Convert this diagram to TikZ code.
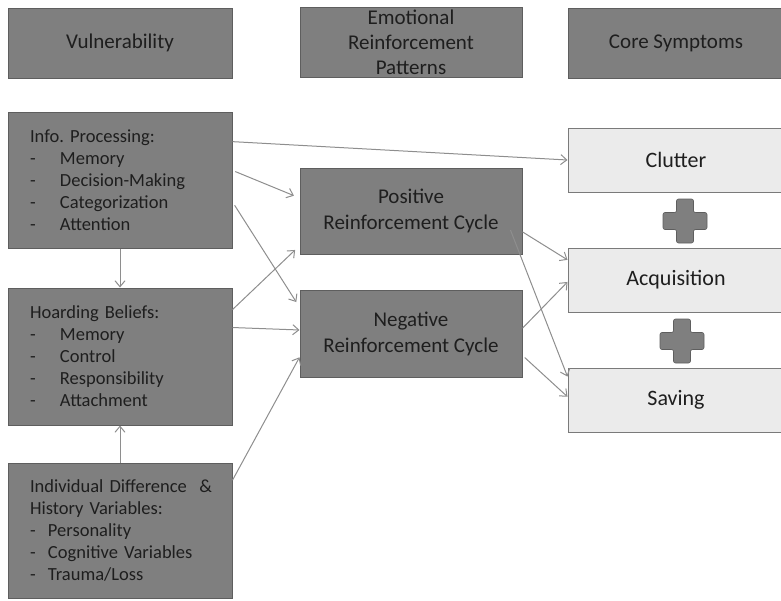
\documentclass[tikz,border=0pt]{standalone}
\usepackage{fontspec}
\setmainfont{Carlito}
\usepackage{tikz}
\usetikzlibrary{calc}
\usetikzlibrary{arrows.meta}
\definecolor{boxdark}{HTML}{7F7F7F}
\definecolor{boxedge}{HTML}{5E5E5E}
\definecolor{boxlight}{HTML}{EBEBEB}
\definecolor{lightedge}{HTML}{7A7A7A}
\definecolor{linkgray}{HTML}{8E8E8E}
\definecolor{txt}{HTML}{1E1E1E}
\newcommand{\longdash}{\makebox[30pt][l]{-}}
\newcommand{\shortdash}{\makebox[18pt][l]{-}}
\frenchspacing
\tikzset{
    darkbox/.style={draw=boxedge, fill=boxdark, line width=1pt, text=txt, inner sep=0pt},
    headbox/.style={darkbox, minimum height=70pt, align=center, font=\fontsize{21}{25}\selectfont},
    listbox/.style={darkbox, text width=180pt, inner xsep=22pt, align=left, font=\fontsize{18.5}{22}\selectfont},
    cyclebox/.style={darkbox, minimum width=222pt, minimum height=86pt, font=\fontsize{21}{26}\selectfont},
    symbox/.style={draw=lightedge, fill=boxlight, line width=1pt, text=txt, minimum width=216pt, minimum height=64pt, font=\fontsize{22}{26}\selectfont},
    link/.style={draw=linkgray, line width=1pt, -{Straight Barb[length=6pt, width=10pt]}},
    plusshape/.style={draw=boxedge, fill=boxdark, line width=0.6pt, rounded corners=2pt}
}
\begin{document}
\begin{tikzpicture}[x=1pt, y=-1pt]
        \useasboundingbox (0,0) rectangle (781,600);
        % headers
        \node[headbox, minimum width=224pt] (vul) at (120,43) {Vulnerability};
        \node[headbox, minimum width=222pt] (emo) at (411,42) {Emotional\\Reinforcement\\Patterns};
        \node[headbox, minimum width=216pt] (core) at (676,43) {Core Symptoms};

        % vulnerability boxes
        \node[listbox, minimum height=136pt] (info) at (120,180) {Info. Processing:\\\longdash Memory\\\longdash Decision-Making\\\longdash Categorization\\\longdash Attention};
        \node[listbox, minimum height=137pt] (belief) at (120,356.5) {Hoarding Beliefs:\\\longdash Memory\\\longdash Control\\\longdash Responsibility\\\longdash Attachment};
        \node[listbox, minimum height=135pt] (indiv) at (120,530.5) {\mbox{Individual Difference \ \&}\\History Variables:\\\shortdash Personality\\\shortdash Cognitive Variables\\\shortdash Trauma/Loss};

        % cycles
        \node[cyclebox] (pos) at (411,211) {\raisebox{9pt}{\parbox{216pt}{\centering Positive\\Reinforcement Cycle}}};
        \node[cyclebox, minimum height=87pt] (neg) at (411,333.5) {\raisebox{9pt}{\parbox{216pt}{\centering Negative\\Reinforcement Cycle}}};

        % symptoms
        \node[symbox] (clutter) at (676,160) {Clutter};
        \node[symbox] (acq) at (676,280) {Acquisition};
        \node[symbox] (sav) at (676,400) {Saving};

        % plus signs
        \coordinate (plus1) at (685,221);
        \coordinate (plus2) at (682,341);
        \draw[plusshape, shift={(plus1)}] (-8.5,-22) -- (8.5,-22) -- (8.5,-8.5) -- (22,-8.5) -- (22,8.5) -- (8.5,8.5) -- (8.5,22) -- (-8.5,22) -- (-8.5,8.5) -- (-22,8.5) -- (-22,-8.5) -- (-8.5,-8.5) -- cycle;
        \draw[plusshape, shift={(plus2)}] (-8.5,-22) -- (8.5,-22) -- (8.5,-8.5) -- (22,-8.5) -- (22,8.5) -- (8.5,8.5) -- (8.5,22) -- (-8.5,22) -- (-8.5,8.5) -- (-22,8.5) -- (-22,-8.5) -- (-8.5,-8.5) -- cycle;

        % links from vulnerability
        \draw[link] ($(info.north east)!0.22!(info.south east)$) -- (clutter.west);
        \draw[link, shorten <=3pt, shorten >=6pt] ($(info.north east)!0.43!(info.south east)$) -- ($(pos.north west)!0.35!(pos.south west)$);
        \draw[link, shorten <=4pt, shorten >=6pt] ($(info.north east)!0.66!(info.south east)$) -- ($(neg.north west)!0.2!(neg.south west)$);
        \draw[link] (info.south) -- (belief.north);
        \draw[link, shorten >=6pt] ($(belief.north east)!0.16!(belief.south east)$) -- ($(pos.north west)!0.9!(pos.south west)$);
        \draw[link] ($(belief.north east)!0.29!(belief.south east)$) -- ($(neg.north west)!0.46!(neg.south west)$);
        \draw[link] (indiv.north) -- (belief.south);
        \draw[link] ($(indiv.north east)!0.13!(indiv.south east)$) -- ($(neg.north west)!0.77!(neg.south west)$);

        % links to symptoms
        \draw[link] ($(pos.north east)!0.74!(pos.south east)$) -- ($(acq.north west)!0.19!(acq.south west)$);
        \draw[link] ($(pos.north east)!0.72!(pos.south east)+(-12,0)$) -- ($(sav.north west)!0.14!(sav.south west)$);
        \draw[link] ($(neg.north east)!0.44!(neg.south east)$) -- ($(acq.north west)!0.53!(acq.south west)$);
        \draw[link, shorten <=3pt] ($(neg.north east)!0.75!(neg.south east)$) -- ($(sav.north west)!0.45!(sav.south west)$);
    \end{tikzpicture}
\end{document}
